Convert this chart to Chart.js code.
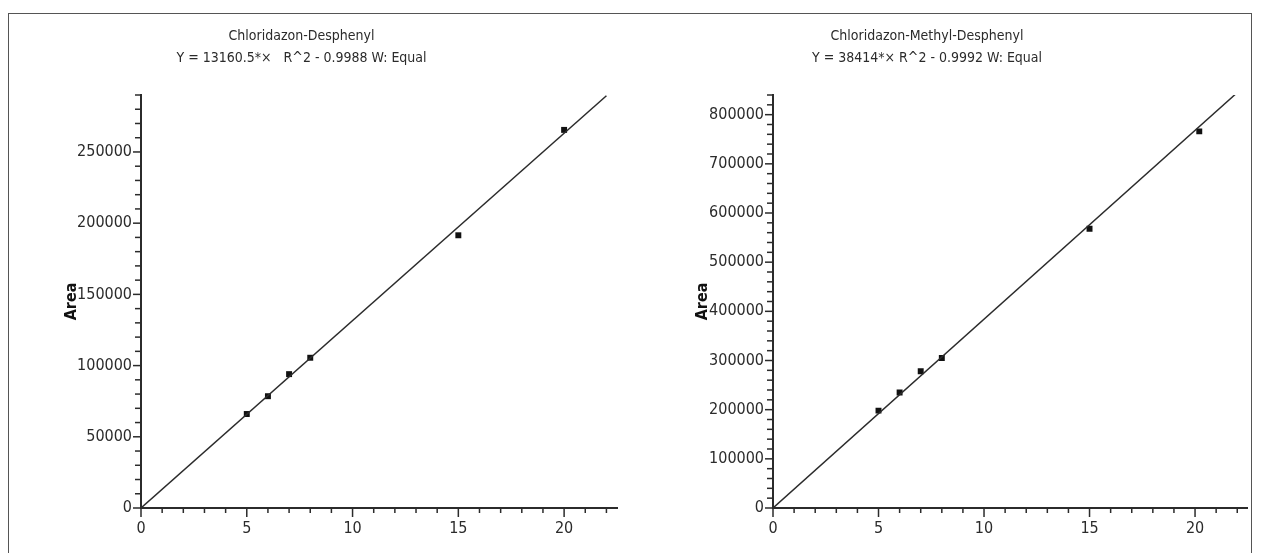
<!DOCTYPE html>
<html>
<head>
<meta charset="utf-8">
<script src="https://cdn.jsdelivr.net/npm/chart.js@4.4.0/dist/chart.umd.min.js"></script>
<style>
  html, body { margin: 0; padding: 0; background: #fff; overflow: hidden; }
  #page { position: relative; width: 1261px; height: 553px; overflow: hidden; }
  #frame { position: absolute; left: 8px; top: 13px; width: 1244px; height: 560px;
           border: 1.5px solid #555; box-sizing: border-box; }
  .box { position: absolute; top: 14px; height: 539px; }
  #boxLeft { left: -14px; width: 644px; }
  #boxRight { left: 604px; width: 648px; }
</style>
</head>
<body>
<div id="page">
  <div id="frame"></div>
  <div class="box" id="boxLeft"><canvas id="chartLeft"></canvas></div>
  <div class="box" id="boxRight"><canvas id="chartRight"></canvas></div>
</div>
<script>
// 왼쪽 그래프 데이터 (Chloridazon-Desphenyl)
const titleLeft = ['Chloridazon-Desphenyl', 'Y = 13160.5*\u00D7   R^2 - 0.9988 W: Equal'];
const concLeft = [5, 6, 7, 8, 15, 20];
const areaLeft = [66000, 78500, 94000, 105500, 191500, 265500];
const fitLeftX = [0, 22];
const fitLeftY = [0, 289500];
const yMaxLeft = 290000;
const yStepLeft = 10000;
const yLabelEveryLeft = 50000;

// 오른쪽 그래프 데이터 (Chloridazon-Methyl-Desphenyl)
const titleRight = ['Chloridazon-Methyl-Desphenyl', 'Y = 38414*\u00D7 R^2 - 0.9992 W: Equal'];
const concRight = [5, 6, 7, 8, 15, 20.2];
const areaRight = [198000, 235000, 278000, 305000, 568000, 766000];
const fitRightX = [0, 21.9];
const fitRightY = [0, 841000];
const yMaxRight = 840000;
const yStepRight = 20000;
const yLabelEveryRight = 100000;

// x축 공통
const xMax = 22.5;
const xLabelEvery = 5;

const FONT = "'Liberation Sans Narrow', 'DejaVu Sans Condensed', 'Roboto', sans-serif";
const INK = '#2b2b2b';

// 눈금선 그리기 (주눈금은 길게)
const tickMarks = {
    id: 'tickMarks',
    afterDraw(chart) {
        const ctx = chart.ctx;
        const xs = chart.scales.x;
        const ys = chart.scales.y;
        ctx.save();
        ctx.strokeStyle = INK;
        ctx.lineWidth = 1.5;
        xs.ticks.forEach(t => {
            const px = xs.getPixelForValue(t.value);
            const len = t.label !== '' ? 9 : 5;
            ctx.beginPath();
            ctx.moveTo(px, xs.top);
            ctx.lineTo(px, xs.top + len);
            ctx.stroke();
        });
        ys.ticks.forEach(t => {
            const py = ys.getPixelForValue(t.value);
            const len = t.label !== '' ? 8 : 6;
            ctx.beginPath();
            ctx.moveTo(ys.right, py);
            ctx.lineTo(ys.right - len, py);
            ctx.stroke();
        });
        ctx.restore();
    }
};

function makeChart(id, title, conc, area, fitX, fitY, yMax, yStep, yLabelEvery, yWidth, areaPad, padRight) {
    const ctx = document.getElementById(id).getContext('2d');
    return new Chart(ctx, {
        type: 'scatter',
        data: {
            datasets: [
                {
                    type: 'line',
                    data: fitX.map((x, i) => ({ x: x, y: fitY[i] })),
                    borderColor: INK,
                    borderWidth: 1.5,
                    pointRadius: 0,
                    fill: false
                },
                {
                    data: conc.map((x, i) => ({ x: x, y: area[i] })),
                    pointStyle: 'rect',
                    pointRadius: 4.2,
                    backgroundColor: '#111',
                    borderColor: '#111',
                    borderWidth: 0
                }
            ]
        },
        options: {
            responsive: true,
            maintainAspectRatio: false,
            animation: false,
            layout: { padding: { left: 0, right: padRight, top: 0, bottom: 0 } },
            plugins: {
                legend: { display: false },
                tooltip: { enabled: false },
                title: {
                    display: true,
                    text: title,
                    color: INK,
                    font: { family: FONT, size: 14, weight: 'normal', lineHeight: '22px' },
                    padding: { top: 11, bottom: 26 }
                }
            },
            scales: {
                x: {
                    type: 'linear',
                    min: 0,
                    max: xMax,
                    border: { display: true, color: INK, width: 2 },
                    grid: { drawOnChartArea: false, drawTicks: true, tickLength: 9, tickColor: 'transparent' },
                    ticks: {
                        stepSize: 1,
                        includeBounds: false,
                        autoSkip: false,
                        maxRotation: 0,
                        padding: 2,
                        color: INK,
                        font: { family: FONT, size: 16 },
                        callback: v => (v % xLabelEvery === 0 ? String(v) : '')
                    },
                    afterFit: s => { s.height = 45; }
                },
                y: {
                    type: 'linear',
                    min: 0,
                    max: yMax,
                    border: { display: true, color: INK, width: 2 },
                    grid: { drawOnChartArea: false, drawTicks: true, tickLength: 8, tickColor: 'transparent' },
                    title: {
                        display: true,
                        text: 'Area',
                        color: '#111',
                        font: { family: FONT, size: 16, weight: 'bold' },
                        padding: { top: areaPad, bottom: 0 }
                    },
                    ticks: {
                        stepSize: yStep,
                        includeBounds: false,
                        autoSkip: false,
                        padding: 1,
                        color: INK,
                        font: { family: FONT, size: 16 },
                        callback: v => (v % yLabelEvery === 0 ? String(v) : '')
                    },
                    afterFit: s => { s.width = yWidth; }
                }
            }
        },
        plugins: [tickMarks]
    });
}

makeChart('chartLeft', titleLeft, concLeft, areaLeft, fitLeftX, fitLeftY,
    yMaxLeft, yStepLeft, yLabelEveryLeft, 155, 76, 13);
makeChart('chartRight', titleRight, concRight, areaRight, fitRightX, fitRightY,
    yMaxRight, yStepRight, yLabelEveryRight, 169, 89, 2);
</script>
</body>
</html>
